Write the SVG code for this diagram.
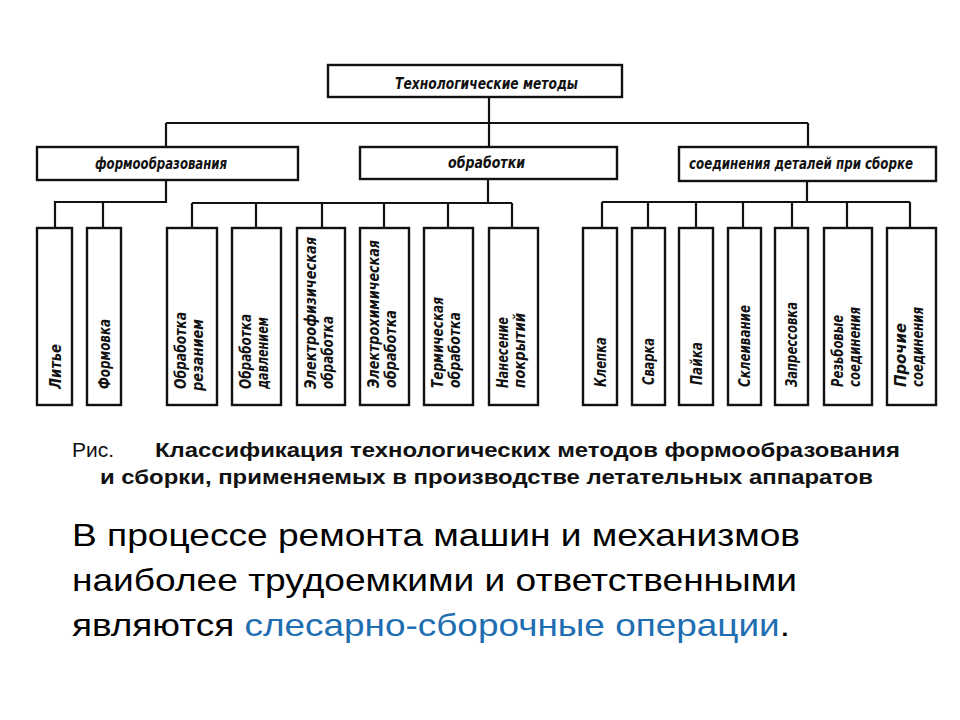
<svg xmlns="http://www.w3.org/2000/svg" width="960" height="720" viewBox="0 0 960 720">
<style>
.box{fill:#fff;stroke:#111;stroke-width:2.4}
.ln{fill:none;stroke:#111;stroke-width:2.2}
.dt{font-family:"DejaVu Sans Condensed","DejaVu Sans",sans-serif;font-style:oblique;font-weight:bold;font-size:15px;fill:#111}
.cap{font-family:"Liberation Sans",Arial,sans-serif;font-size:21px;fill:#111}
.body{font-family:"Liberation Sans",Arial,sans-serif;font-size:32px;fill:#000}
.blue{fill:#1F6EB2}
</style>
<rect width="960" height="720" fill="#fff"/>
<g id="connectors">
<path class="ln" d="M489 97V147M166 123H808M166 123V147M808 123V147"/>
<path class="ln" d="M166 180V202H55V228M103 202V228"/>
<path class="ln" d="M488 179V203M192 203H512M192 203V228M256 203V228M322 203V228M384 203V228M448 203V228M512 203V228"/>
<path class="ln" d="M807 181V202M602 202H910M602 202V228M648 202V228M696 202V228M743 202V228M792 202V228M847 202V228M910 202V228"/>
</g>
<g id="n-top"><rect class="box" x="328" y="65" width="294" height="32"/><text class="dt" x="395" y="89" textLength="183" lengthAdjust="spacingAndGlyphs">Технологические методы</text></g>
<g id="n-form"><rect class="box" x="37" y="147" width="261" height="33"/><text class="dt" x="95" y="169" textLength="132" lengthAdjust="spacingAndGlyphs">формообразования</text></g>
<g id="n-obr"><rect class="box" x="360" y="147" width="257" height="32"/><text class="dt" x="448" y="168" textLength="77" lengthAdjust="spacingAndGlyphs">обработки</text></g>
<g id="n-soed"><rect class="box" x="679" y="147" width="257" height="34"/><text class="dt" x="689" y="169" textLength="224" lengthAdjust="spacingAndGlyphs">соединения деталей при сборке</text></g>

<g id="l1"><rect class="box" x="37" y="228" width="35" height="177"/><text class="dt" transform="translate(61 389) rotate(-90)" textLength="45" lengthAdjust="spacingAndGlyphs">Литье</text></g>
<g id="l2"><rect class="box" x="87" y="228" width="34" height="177"/><text class="dt" transform="translate(110 389) rotate(-90)" textLength="70" lengthAdjust="spacingAndGlyphs">Формовка</text></g>
<g id="l3"><rect class="box" x="167" y="228" width="50" height="177"/><text class="dt" transform="translate(186 389) rotate(-90)" textLength="77" lengthAdjust="spacingAndGlyphs">Обработка</text><text class="dt" transform="translate(203 391) rotate(-90)" textLength="72" lengthAdjust="spacingAndGlyphs">резанием</text></g>
<g id="l4"><rect class="box" x="232" y="228" width="49" height="177"/><text class="dt" transform="translate(251 389) rotate(-90)" textLength="75" lengthAdjust="spacingAndGlyphs">Обработка</text><text class="dt" transform="translate(268 389) rotate(-90)" textLength="72" lengthAdjust="spacingAndGlyphs">давлением</text></g>
<g id="l5"><rect class="box" x="297" y="228" width="48" height="177"/><text class="dt" transform="translate(316 389) rotate(-90)" textLength="152" lengthAdjust="spacingAndGlyphs">Электрофизическая</text><text class="dt" transform="translate(333 389) rotate(-90)" textLength="73" lengthAdjust="spacingAndGlyphs">обработка</text></g>
<g id="l6"><rect class="box" x="360" y="228" width="49" height="177"/><text class="dt" transform="translate(379 388) rotate(-90)" textLength="148" lengthAdjust="spacingAndGlyphs">Электрохимическая</text><text class="dt" transform="translate(396 388) rotate(-90)" textLength="78" lengthAdjust="spacingAndGlyphs">обработка</text></g>
<g id="l7"><rect class="box" x="424" y="228" width="49" height="177"/><text class="dt" transform="translate(443 388) rotate(-90)" textLength="91" lengthAdjust="spacingAndGlyphs">Термическая</text><text class="dt" transform="translate(460 388) rotate(-90)" textLength="76" lengthAdjust="spacingAndGlyphs">обработка</text></g>
<g id="l8"><rect class="box" x="489" y="228" width="49" height="177"/><text class="dt" transform="translate(508 388) rotate(-90)" textLength="71" lengthAdjust="spacingAndGlyphs">Нанесение</text><text class="dt" transform="translate(525 388) rotate(-90)" textLength="75" lengthAdjust="spacingAndGlyphs">покрытий</text></g>
<g id="l9"><rect class="box" x="583" y="228" width="34" height="177"/><text class="dt" transform="translate(606 387) rotate(-90)" textLength="50" lengthAdjust="spacingAndGlyphs">Клепка</text></g>
<g id="l10"><rect class="box" x="632" y="228" width="33" height="177"/><text class="dt" transform="translate(654 385) rotate(-90)" textLength="47" lengthAdjust="spacingAndGlyphs">Сварка</text></g>
<g id="l11"><rect class="box" x="679" y="228" width="34" height="177"/><text class="dt" transform="translate(702 385) rotate(-90)" textLength="43" lengthAdjust="spacingAndGlyphs">Пайка</text></g>
<g id="l12"><rect class="box" x="728" y="228" width="33" height="177"/><text class="dt" transform="translate(750 387) rotate(-90)" textLength="82" lengthAdjust="spacingAndGlyphs">Склеивание</text></g>
<g id="l13"><rect class="box" x="775" y="228" width="33" height="177"/><text class="dt" transform="translate(797 387) rotate(-90)" textLength="85" lengthAdjust="spacingAndGlyphs">Запрессовка</text></g>
<g id="l14"><rect class="box" x="824" y="228" width="48" height="177"/><text class="dt" transform="translate(843 387) rotate(-90)" textLength="72" lengthAdjust="spacingAndGlyphs">Резьбовые</text><text class="dt" transform="translate(860 387) rotate(-90)" textLength="80" lengthAdjust="spacingAndGlyphs">соединения</text></g>
<g id="l15"><rect class="box" x="887" y="228" width="49" height="177"/><text class="dt" transform="translate(906 387) rotate(-90)" textLength="64" lengthAdjust="spacingAndGlyphs">Прочие</text><text class="dt" transform="translate(923 387) rotate(-90)" textLength="80" lengthAdjust="spacingAndGlyphs">соединения</text></g>

<g id="caption">
<text class="cap" x="72" y="457">Рис.</text>
<text class="cap" x="155" y="457" font-weight="bold" textLength="745" lengthAdjust="spacingAndGlyphs">Классификация технологических методов формообразования</text>
<text class="cap" x="100" y="484" font-weight="bold" textLength="773" lengthAdjust="spacingAndGlyphs">и сборки, применяемых в производстве летательных аппаратов</text>
</g>
<g id="body">
<text class="body" x="72" y="546" textLength="728" lengthAdjust="spacingAndGlyphs">В процессе ремонта машин и механизмов</text>
<text class="body" x="72" y="591" textLength="725" lengthAdjust="spacingAndGlyphs">наиболее трудоемкими и ответственными</text>
<text class="body" x="72" y="636" textLength="718" lengthAdjust="spacingAndGlyphs">являются <tspan class="blue">слесарно-сборочные операции</tspan>.</text>
</g>
</svg>
